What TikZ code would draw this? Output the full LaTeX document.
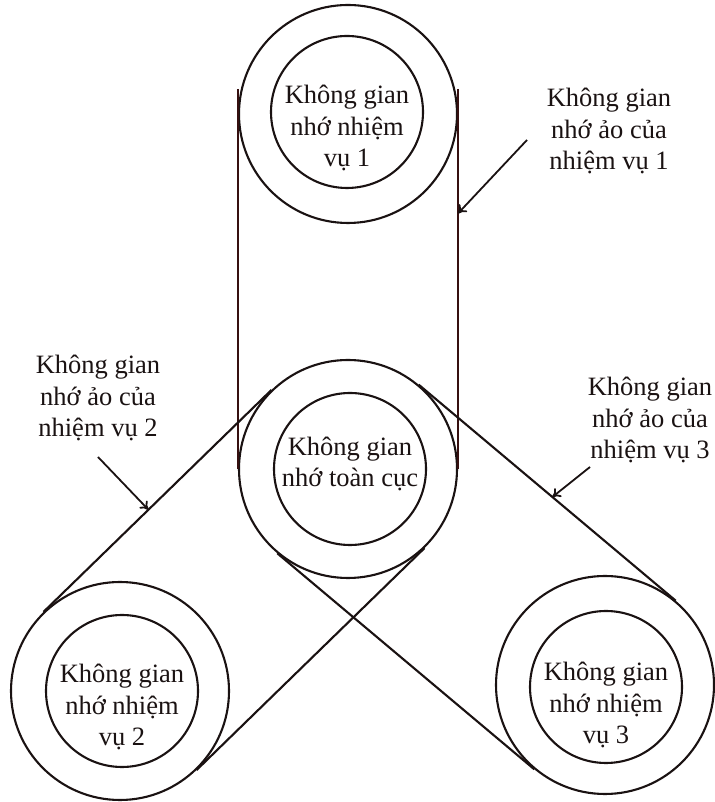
\documentclass[tikz,border=0pt]{standalone}
\usepackage{fontspec}
\setmainfont{Liberation Serif}
\usetikzlibrary{arrows.meta}
\definecolor{ink}{HTML}{1A1212}
\definecolor{beltred}{HTML}{361010}

\begin{document}
\begin{tikzpicture}[x=1pt,y=1pt,>={To[length=8pt,width=11pt]},
  font=\fontsize{26.5}{31.5}\selectfont,
  ring/.style={draw=ink,line width=2.1pt,circle,minimum size=218pt,inner sep=0pt},
  core/.style={draw=ink,line width=2.1pt,circle,minimum size=152pt,inner sep=0pt},
  belt/.style={draw=ink,line width=2.1pt},
  txt/.style={align=center,text=ink}]
\useasboundingbox (0,0) rectangle (714,802);
% memory spaces
\node[ring] (top) at (348,688) {};
\node[core] (topc) at (347,690) {};
\node[txt] (toptxt) at ([yshift=-16pt]topc.center) {Không gian\\nhớ nhiệm\\vụ 1};
\node[ring] (mid) at (348,333) {};
\node[core] (midc) at (350,333) {};
\node[txt] (midtxt) at ([yshift=5pt]midc.center) {Không gian\\nhớ toàn cục};
\node[ring] (bl) at (120,111) {};
\node[core] (blc) at (122,111) {};
\node[txt] (bltxt) at ([yshift=-16pt]blc.center) {Không gian\\nhớ nhiệm\\vụ 2};
\node[ring] (br) at (605,117) {};
\node[core] (brc) at (606,115) {};
\node[txt] (brtxt) at ([yshift=-18pt]brc.center) {Không gian\\nhớ nhiệm\\vụ 3};
% belts
\draw[beltred,line width=2.8pt,shorten <=-25pt] (top.180) -- (mid.180);
\draw[beltred,line width=2.8pt,shorten <=-25pt] (top.0) -- coordinate[pos=0.28] (v1) (mid.0);
\draw[belt] (mid.134) -- coordinate[pos=0.54] (v2) (bl.134);
\draw[belt] (mid.314) -- (bl.314);
\draw[belt] (mid.50) -- coordinate[pos=0.52] (v3) (br.50);
\draw[belt] (mid.230) -- (br.230);
% labels
\node[txt] (lab1) at (609,671) {Không gian\\nhớ ảo của\\nhiệm vụ 1};
\node[txt] (lab2) at (98,404) {Không gian\\nhớ ảo của\\nhiệm vụ 2};
\node[txt] (lab3) at (650,382) {Không gian\\nhớ ảo của\\nhiệm vụ 3};
\coordinate (a1) at (527,662);
\coordinate (a2) at (98,345);
\coordinate (a3) at (590,335);
\draw[->,ink,line width=1.8pt] (a1) -- (v1);
\draw[->,ink,line width=1.8pt] (a2) -- (v2);
\draw[->,ink,line width=1.8pt] (a3) -- (v3);
\end{tikzpicture}
\end{document}
